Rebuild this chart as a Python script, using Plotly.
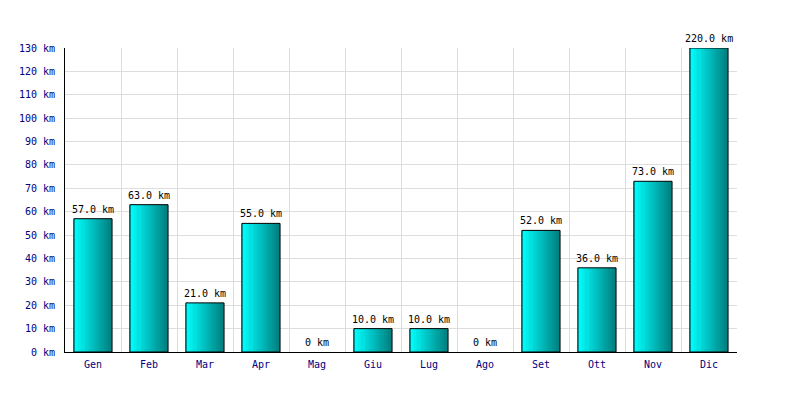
import plotly.graph_objects as go

months = ["Gen", "Feb", "Mar", "Apr", "Mag", "Giu", "Lug", "Ago", "Set", "Ott", "Nov", "Dic"]
km = [57.0, 63.0, 21.0, 55.0, 0, 10.0, 10.0, 0, 52.0, 36.0, 73.0, 220.0]
y_max = 130
y_ticks = list(range(0, 131, 10))
y_tick_labels = [f"{v} km" for v in y_ticks]

shown = [min(v, y_max) if v > 0 else None for v in km]
label_y = [min(v, y_max) for v in km]
labels = [f"{v:.1f} km" if v else "0 km" for v in km]

font_family = "DejaVu Sans Mono"
font_size = 10
bar_w = 0.68
n_slices = 24
c0 = (0, 255, 255)
c1 = (0, 128, 128)

fig = go.Figure()
for i in range(n_slices):
    t = i / (n_slices - 1)
    col = tuple(round(a + (b - a) * t) for a, b in zip(c0, c1))
    w = bar_w / n_slices
    fig.add_trace(go.Bar(
        x=months, y=shown, width=w * 1.05, offset=-bar_w / 2 + i * w,
        marker=dict(color=f"rgb{col}", line=dict(width=0)),
        hoverinfo="skip", showlegend=False,
    ))
fig.add_trace(go.Bar(
    x=months, y=shown, width=bar_w, offset=-bar_w / 2,
    marker=dict(color="rgba(0,0,0,0)", line=dict(color="black", width=1)),
    showlegend=False,
))

for m, v, lab in zip(months, label_y, labels):
    fig.add_annotation(x=m, y=v, text=lab, showarrow=False, yanchor="bottom",
                       yshift=2, font=dict(family=font_family, size=font_size, color="black"))

fig.update_layout(
    width=800, height=400, barmode="overlay",
    margin=dict(l=57, r=71, t=40, b=56, autoexpand=False),
    paper_bgcolor="white", plot_bgcolor="white",
    font=dict(family=font_family, size=font_size, color="#000080"),
)
fig.update_xaxes(
    type="category", tickson="boundaries", showgrid=True, gridcolor="#dddddd",
    showline=True, linecolor="black", linewidth=1, ticks="", mirror=False,
    tickfont=dict(family=font_family, size=font_size, color="#000080"),
    range=[-0.5, 11.5], ticklabelstandoff=3,
)
fig.update_yaxes(
    range=[0, y_max], tickvals=y_ticks, ticktext=y_tick_labels,
    showgrid=True, gridcolor="#dddddd", showline=True, linecolor="black",
    linewidth=1, ticks="", zeroline=False, ticklabelstandoff=7,
    tickfont=dict(family=font_family, size=font_size, color="#000080"),
)

fig.write_html("out.html")
